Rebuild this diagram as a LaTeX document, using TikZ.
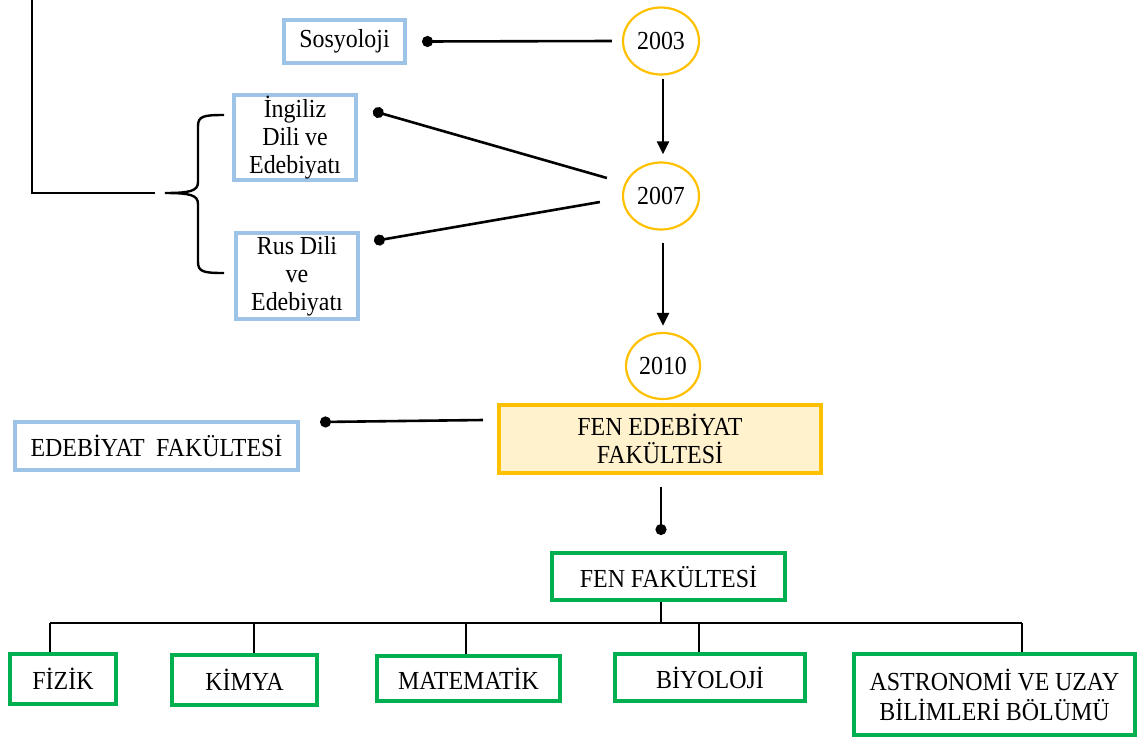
\documentclass[tikz,border=0pt]{standalone}
\usepackage{fontspec}
\setmainfont{Liberation Serif}[FakeStretch=0.92,WordSpace=0.95]
\usetikzlibrary{shapes.geometric,arrows.meta,calc}
\definecolor{lblue}{HTML}{9DC3E6}
\definecolor{ggreen}{HTML}{00B050}
\definecolor{gold}{HTML}{FFC000}
\definecolor{cream}{HTML}{FFF2CC}
\tikzset{
  txt/.style={font=\fontsize{26}{28}\selectfont, align=center, inner sep=0pt},
  bluebox/.style={txt, draw=lblue, line width=4pt},
  greenbox/.style={txt, draw=ggreen, line width=4pt},
  goldbox/.style={txt, draw=gold, fill=cream, line width=4pt},
  year/.style={txt, ellipse, draw=gold, line width=2.2pt, minimum width=76pt, minimum height=67pt},
  conn/.style={line width=2.6pt, black},
  dotconn/.style={conn, {Circle[length=11pt,width=11pt]}-},
  arr/.style={conn, -{Triangle[width=12pt,length=13pt]}}
}
\begin{document}
\begin{tikzpicture}[x=1pt,y=-1pt]
\useasboundingbox (0,0) rectangle (1141,740);
% year ellipses
\node[year] (y2003) at (661,41) {2003};
\node[year] (y2007) at (661,196) {2007};
\node[year, minimum width=74pt, minimum height=66pt] (y2010) at (663,366) {2010};
% blue boxes
\node[bluebox, minimum width=121pt, minimum height=43pt] (soc) at (344.5,41.5) {Sosyoloji};
\node[bluebox, minimum width=122pt, minimum height=85pt] (ing) at (295,137.5) {İngiliz\\Dili ve\\Edebiyatı};
\node[bluebox, minimum width=122pt, minimum height=86pt] (rus) at (297,276) {Rus Dili\\ve\\Edebiyatı};
\node[bluebox, minimum width=283pt, minimum height=48pt] (edb) at (156.5,446) {EDEBİYAT\ \ FAKÜLTESİ};
% gold box
\node[goldbox, minimum width=322pt, minimum height=68pt] (fe) at (660,439) {FEN EDEBİYAT\\FAKÜLTESİ};
% green boxes
\node[greenbox, minimum width=233pt, minimum height=47pt] (fen) at (668.5,576.5) {FEN FAKÜLTESİ};
\node[greenbox, minimum width=106pt, minimum height=50pt] (fiz) at (63,679) {FİZİK};
\node[greenbox, minimum width=145pt, minimum height=50pt] (kim) at (244.5,680) {KİMYA};
\node[greenbox, minimum width=183pt, minimum height=45pt] (mat) at (468.5,678.5) {MATEMATİK};
\node[greenbox, minimum width=190pt, minimum height=47pt] (bio) at (710,677.5) {BİYOLOJİ};
\node[greenbox, minimum width=281pt, minimum height=81pt, font=\fontsize{26}{30}\selectfont] (ast) at (994.5,694.5) {ASTRONOMİ VE UZAY\\BİLİMLERİ BÖLÜMÜ};
% left tree and brace
\coordinate (lt) at (32,0);
\coordinate (lc) at (32,193);
\coordinate (le) at (155,193);
\draw[conn, line width=2.4pt] (lt) -- (lc) -- (le);
\coordinate (bt) at (224,115);
\coordinate (bm) at (165,193);
\coordinate (bb) at (224,273);
\draw[conn, line width=2.4pt] (bt) .. controls (204,115) and (198,116) .. (198,126) -- (198,182)
  .. controls (198,191) and (190,193) .. (bm)
  .. controls (190,193) and (198,195) .. (198,204) -- (198,262)
  .. controls (198,272) and (204,273) .. (bb);
% dot connectors
\draw[dotconn] ($(soc.east)+(15,0)$) -- ($(y2003.west)+(-10,0)$);
\draw[dotconn] ($(ing.north east)+(15,18)$) -- ($(y2007.west)+(-15,-18)$);
\draw[dotconn] ($(rus.north east)+(14,10)$) -- ($(y2007.west)+(-22,6)$);
\draw[dotconn] ($(edb.north east)+(20,2)$) -- ($(fe.north west)+(-14,17)$);
\draw[conn, -{Circle[length=11pt,width=11pt]}] ($(fe.south)+(1,12)$) -- ($(fen.north)+(-7.5,-16)$);
% year arrows
\draw[arr] ($(y2003.south)+(2,3)$) -- ($(y2007.north)+(2,-7)$);
\draw[arr] ($(y2007.south)+(2,12)$) -- ($(y2010.north)+(0,-6)$);
% bottom bus
\coordinate (fd) at ($(fen.south)+(-7.5,0)$);
\coordinate (bus) at ($(fd)+(0,21)$);
\coordinate (b1) at (50,623);
\coordinate (b2) at (254,623);
\coordinate (b3) at (466,623);
\coordinate (b4) at (699,623);
\coordinate (b5) at (1022,623);
\draw[conn, line width=2.4pt] (fd) -- (bus);
\draw[conn, line width=2.4pt] (b1) -- (b5);
\draw[conn, line width=2.4pt] (b1) -- (b1 |- fiz.north);
\draw[conn, line width=2.4pt] (b2) -- (b2 |- kim.north);
\draw[conn, line width=2.4pt] (b3) -- (b3 |- mat.north);
\draw[conn, line width=2.4pt] (b4) -- (b4 |- bio.north);
\draw[conn, line width=2.4pt] (b5) -- (b5 |- ast.north);
\end{tikzpicture}
\end{document}
